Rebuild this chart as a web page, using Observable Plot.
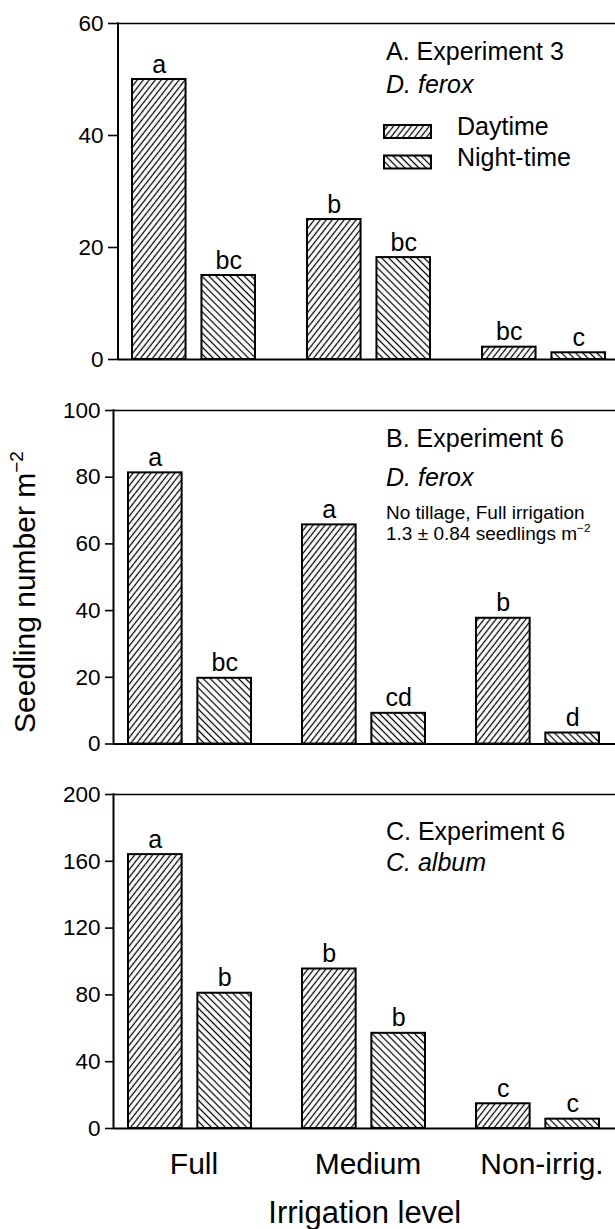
<!DOCTYPE html>
<html>
<head>
<meta charset="utf-8">
<script src="https://cdn.jsdelivr.net/npm/d3@7"></script>
<script src="https://cdn.jsdelivr.net/npm/@observablehq/plot@0.6"></script>
<style>
html, body { margin: 0; padding: 0; background: #fff; }
#wrap { position: relative; width: 615px; height: 1229px; overflow: hidden; background: #fff;
  font-family: "Liberation Sans", Arial, Helvetica, sans-serif; }
#wrap > svg { position: absolute; left: 0; }
</style>
</head>
<body>
<svg width="0" height="0" style="position:absolute">
  <defs>
    <pattern id="hatchDay" patternUnits="userSpaceOnUse" width="4.7" height="10" patternTransform="rotate(38)">
      <rect width="4.7" height="10" fill="#fff"></rect>
      <line x1="2.35" y1="-1" x2="2.35" y2="11" stroke="#000" stroke-width="1.25"></line>
    </pattern>
    <pattern id="hatchNight" patternUnits="userSpaceOnUse" width="5" height="10" patternTransform="rotate(-45)">
      <rect width="5" height="10" fill="#fff"></rect>
      <line x1="2.5" y1="-1" x2="2.5" y2="11" stroke="#000" stroke-width="1.25"></line>
    </pattern>
  </defs>
</svg>
<div id="wrap"></div>
<script>
// ---- data ----
const levels = ["Full", "Medium", "Non-irrig."];
const periods = ["Daytime", "Night-time"];
const xTitle = "Irrigation level";

// Panel A: Experiment 3, D. ferox
const aDay = [50, 25, 2.2];
const aNight = [15, 18.2, 1.2];
const aDayLetters = ["a", "b", "bc"];
const aNightLetters = ["bc", "bc", "c"];
const aTicks = [0, 20, 40, 60];

// Panel B: Experiment 6, D. ferox
const bDay = [81.3, 65.7, 37.7];
const bNight = [19.7, 9.2, 3.3];
const bDayLetters = ["a", "a", "b"];
const bNightLetters = ["bc", "cd", "d"];
const bTicks = [0, 20, 40, 60, 80, 100];

// Panel C: Experiment 6, C. album
const cDay = [164, 95.5, 14.8];
const cNight = [81, 57, 5.6];
const cDayLetters = ["a", "b", "c"];
const cNightLetters = ["b", "b", "c"];
const cTicks = [0, 40, 80, 120, 160, 200];

// ---- layout ----
const W = 615;
const panels = [
  {day: aDay, night: aNight, dayL: aDayLetters, nightL: aNightLetters, ticks: aTicks, ymax: 60,
   svgTop: 0, marginLeft: 118, marginTop: 23, plotH: 336, marginBottom: 20, tickSize: 10,
   paddingInner: 0.286, paddingOuter: 0.063, align: 0.59,
   notes: [
     {t: "A. Experiment 3", x: 386, y: 59.5, size: 25},
     {t: "D. ferox", x: 386, y: 93, size: 25, italic: true},
     {t: "Daytime", x: 457, y: 134.5, size: 25},
     {t: "Night-time", x: 457, y: 165.5, size: 25}
   ],
   swatches: [
     {fill: "url(#hatchDay)", x: 384, y: 125, w: 47, h: 13},
     {fill: "url(#hatchNight)", x: 384, y: 155.5, w: 47, h: 13}
   ]},
  {day: bDay, night: bNight, dayL: bDayLetters, nightL: bNightLetters, ticks: bTicks, ymax: 100,
   svgTop: 380, marginLeft: 113.5, marginTop: 30, plotH: 333.5, marginBottom: 20, tickSize: 8.5,
   paddingInner: 0.284, paddingOuter: 0.08, align: 0.47,
   notes: [
     {t: "B. Experiment 6", x: 386, y: 447, size: 25},
     {t: "D. ferox", x: 386, y: 485.5, size: 25, italic: true},
     {t: "No tillage, Full irrigation", x: 386, y: 518.5, size: 19},
     {t: "1.3 \u00B1 0.84 seedlings m", sup: "\u22122", x: 386, y: 539.5, size: 19}
   ],
   swatches: []},
  {day: cDay, night: cNight, dayL: cDayLetters, nightL: cNightLetters, ticks: cTicks, ymax: 200,
   svgTop: 764, marginLeft: 113.5, marginTop: 30, plotH: 334, marginBottom: 101, tickSize: 8.5,
   paddingInner: 0.284, paddingOuter: 0.08, align: 0.47, xLabels: true,
   notes: [
     {t: "C. Experiment 6", x: 386, y: 839.5, size: 25},
     {t: "C. album", x: 386, y: 870.5, size: 25, italic: true}
   ],
   swatches: []}
];

const wrap = document.getElementById("wrap");
const FONT = "'Liberation Sans', Arial, Helvetica, sans-serif";

for (const p of panels) {
  const rows = levels.flatMap((lv, k) => [
    {level: lv, period: periods[0], value: p.day[k], letter: p.dayL[k]},
    {level: lv, period: periods[1], value: p.night[k], letter: p.nightL[k]}
  ]);
  const dayRows = rows.filter(d => d.period === periods[0]);
  const nightRows = rows.filter(d => d.period === periods[1]);

  const plotW = W - p.marginLeft;
  const step = plotW / (levels.length - p.paddingInner + 2 * p.paddingOuter);
  const bw = step * (1 - p.paddingInner);
  const rectW = 53.5;
  const side = bw - 1 - rectW;
  const off = bw / 2 - 1 - rectW / 2;
  const height = p.marginTop + p.plotH + p.marginBottom;

  const marks = [
    Plot.ruleY([p.ymax], {stroke: "#000", strokeWidth: 1.6}),
    Plot.barY(dayRows, {x: "level", y: "value", fill: "url(#hatchDay)", stroke: "#000", strokeWidth: 2,
      insetLeft: 1, insetRight: side}),
    Plot.barY(nightRows, {x: "level", y: "value", fill: "url(#hatchNight)", stroke: "#000", strokeWidth: 2,
      insetLeft: side, insetRight: 1}),
    Plot.ruleY([0], {stroke: "#000", strokeWidth: 2}),
    Plot.text(dayRows, {x: "level", y: "value", text: "letter", dx: -off, dy: -7, lineAnchor: "bottom",
      fontSize: 25, fill: "#000"}),
    Plot.text(nightRows, {x: "level", y: "value", text: "letter", dx: off, dy: -7, lineAnchor: "bottom",
      fontSize: 25, fill: "#000"})
  ];
  if (p.xLabels) {
    marks.push(
      Plot.text(levels, {x: d => d, text: d => d, frameAnchor: "bottom", dy: 45, dx: 4, lineAnchor: "bottom",
        fontSize: 30, fill: "#000"}),
      Plot.text([xTitle], {text: d => d, frameAnchor: "bottom", dy: 94, lineAnchor: "bottom",
        fontSize: 31, fill: "#000"})
    );
  }

  const svg = Plot.plot({
    width: W,
    height,
    marginLeft: p.marginLeft,
    marginRight: 0,
    marginTop: p.marginTop,
    marginBottom: p.marginBottom,
    x: {domain: levels, axis: null, paddingInner: p.paddingInner, paddingOuter: p.paddingOuter, align: p.align},
    y: {domain: [0, p.ymax], ticks: p.ticks, tickSize: p.tickSize, tickPadding: 5, label: null},
    style: {fontFamily: FONT, fontSize: "22px", color: "#000", background: "#fff", overflow: "visible"},
    marks
  });
  svg.style.top = p.svgTop + "px";

  const s = d3.select(svg);
  s.selectAll("[aria-label^='y-axis'] line, [aria-label^='y-axis'] path").attr("stroke-width", 1.6);
  s.selectAll("[aria-label^='y-axis'] text").attr("font-size", 22.5).style("font-size", "22.5px");
  s.selectAll("[aria-label^='y-axis']").attr("font-size", 22.5);
  // left axis line of the panel frame
  s.append("line")
    .attr("x1", p.marginLeft).attr("x2", p.marginLeft)
    .attr("y1", p.marginTop - 0.8).attr("y2", p.marginTop + p.plotH + 1)
    .attr("stroke", "#000").attr("stroke-width", 2);
  // legend swatches
  for (const sw of p.swatches) {
    s.append("rect").attr("x", sw.x).attr("y", sw.y - p.svgTop).attr("width", sw.w).attr("height", sw.h)
      .attr("fill", sw.fill).attr("stroke", "#000").attr("stroke-width", 2);
  }
  // annotations
  for (const n of p.notes) {
    const t = s.append("text").attr("x", n.x).attr("y", n.y - p.svgTop)
      .attr("text-anchor", "start")
      .attr("font-size", n.size).attr("font-family", FONT).attr("fill", "#000")
      .attr("font-style", n.italic ? "italic" : null);
    t.append("tspan").text(n.t);
    if (n.sup) t.append("tspan").attr("font-size", n.size * 0.62).attr("dy", -n.size * 0.42).text(n.sup);
  }
  wrap.appendChild(svg);
}

// shared y-axis title
const ov = d3.select(wrap).append("svg").attr("width", 60).attr("height", 1229).style("top", "0px");
const yt = ov.append("text").attr("transform", "translate(35,592) rotate(-90)")
  .attr("text-anchor", "middle").attr("font-family", FONT).attr("font-size", 30).attr("fill", "#000");
yt.append("tspan").text("Seedling number m");
yt.append("tspan").attr("font-size", 19).attr("dy", -12).text("\u22122");
</script>
</body>
</html>
